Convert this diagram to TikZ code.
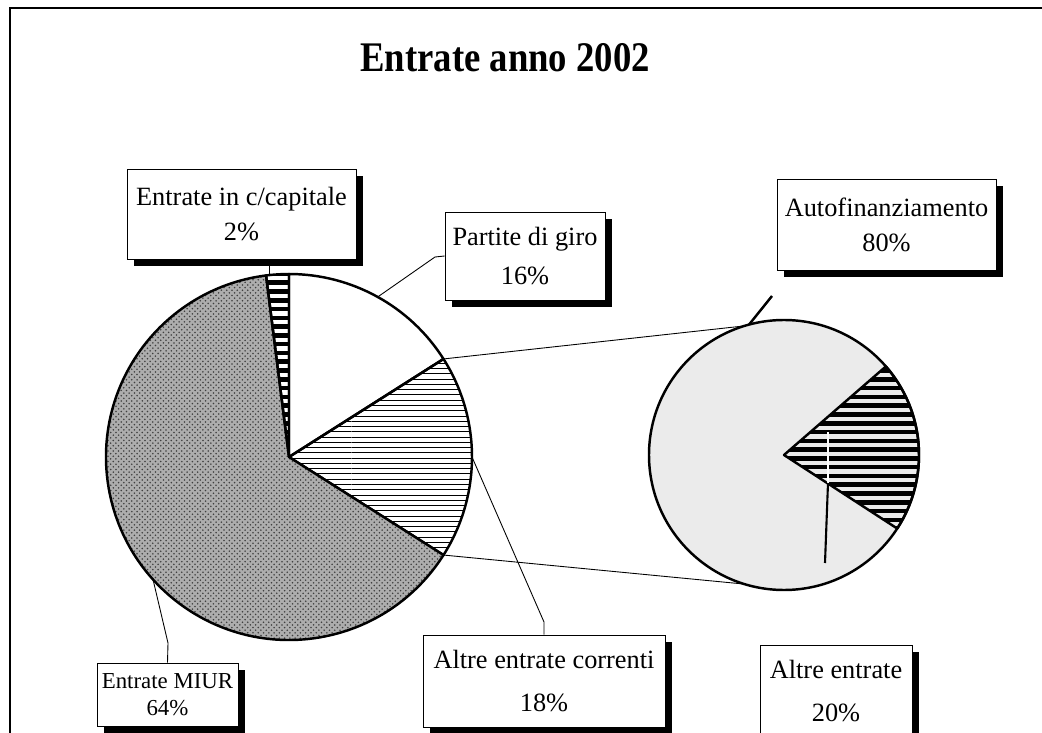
\documentclass[tikz,border=0pt]{standalone}
\usepackage{fontspec}
\setmainfont{Liberation Serif}
\usetikzlibrary{patterns, shadows}
\pgfdeclarepatternformonly{wide stripes}{\pgfpoint{-1pt}{-1pt}}{\pgfpoint{100pt}{4pt}}{\pgfpoint{100pt}{5pt}}{\pgfpathrectangle{\pgfpoint{0pt}{0pt}}{\pgfpoint{100pt}{2.6pt}}\pgfusepath{fill}}
\tikzset{lbl/.style={draw=black, line width=0.5pt, fill=white, align=center, inner sep=0pt,
    font=\fontsize{15}{20}\selectfont,
    drop shadow={shadow xshift=0.14cm, shadow yshift=-0.14cm, fill=black, opacity=1}},
  slice/.style={draw=black, line width=1.4pt, line join=round},
  leader/.style={draw=black, line width=0.5pt}}

\begin{document}
\begin{tikzpicture}[x=0.02cm, y=-0.02cm]
  \clip (0,0) rectangle (1042,733);
  \draw[line width=1.5pt] (10,740) -- (10,8) -- (1050,8);
  \node[font=\fontsize{24}{28}\selectfont\bfseries, anchor=base] (ttl) at (505,72) {\scalebox{0.87}[1]{Entrate anno 2002}};

  % torta principale
  \begin{scope}[shift={(289,457)}, y=0.02cm]
    \filldraw[slice, fill=white] (0,0) -- (90:183) arc (90:32.4:183) -- cycle;
    \filldraw[slice, pattern=horizontal lines] (0,0) -- (32.4:183) arc (32.4:-32.4:183) -- cycle;
    \fill[black!32] (0,0) -- (-32.4:183) arc (-32.4:-262.8:183) -- cycle;
    \filldraw[slice, pattern=crosshatch dots, pattern color=black!75] (0,0) -- (-32.4:183) arc (-32.4:-262.8:183) -- cycle;
    \filldraw[slice, pattern=wide stripes] (0,0) -- (97.2:183) arc (97.2:90:183) -- cycle;
    \coordinate (mtop) at (32.4:183);
    \coordinate (mbot) at (-32.4:183);
    \coordinate (mgiro) at (61:183);
    \coordinate (mcorr) at (0:183);
    \coordinate (mmiur) at (222:183);
    \coordinate (mcap) at (96:183);
  \end{scope}

  % torta secondaria
  \begin{scope}[shift={(784,455)}, y=0.02cm]
    \filldraw[slice, fill=black!8] (0,0) circle (135);
    \filldraw[slice, pattern=wide stripes] (0,0) -- (41:135) arc (41:-33:135) -- cycle;
    \coordinate (stop) at (107:135);
    \coordinate (sbot) at (-107:135);
    \coordinate (sauto) at (105:135);
  \end{scope}

  \draw[leader] (mtop) -- (stop);
  \draw[leader] (mbot) -- (sbot);

  \node[lbl, minimum width=4.58cm, minimum height=1.8cm] (cap) at (241.5,214) {Entrate in c/capitale\\2\%};
  \node[lbl, minimum width=3.2cm, minimum height=1.76cm, font=\fontsize{15}{22}\selectfont] (giro) at (525,256) {Partite di giro\\16\%};
  \node[lbl, minimum width=4.38cm, minimum height=1.82cm] (auto) at (886.5,224.5) {Autofinanziamento\\80\%};
  \node[lbl, minimum width=2.82cm, minimum height=1.26cm, font=\fontsize{13}{15}\selectfont] (miur) at (167.5,694.5) {Entrate MIUR\\64\%};
  \node[lbl, minimum width=4.84cm, minimum height=1.84cm, font=\fontsize{15}{24}\selectfont] (corr) at (544,681) {Altre entrate correnti\\18\%};
  \node[lbl, minimum width=3.04cm, minimum height=1.84cm, font=\fontsize{15}{24}\selectfont] (altre) at (836,691) {Altre entrate\\20\%};

  \coordinate (autotip) at (772,296);
  \coordinate (aewhite) at (828,432);
  \coordinate (aemid) at (828,483);
  \coordinate (aetip) at (825,563);

  \draw[leader] (mgiro) -- (435,257) -- (giro.west);
  \draw[leader] (mcorr) -- (544,622) -- (corr.north);
  \draw[leader] (mmiur) -- (168,643) -- (miur.north);
  \draw[leader] (mcap) -- (cap.south -| mcap);
  \draw[line width=1.4pt] (sauto) -- (autotip);
  \draw[white, line width=1.2pt] (aewhite) -- (aemid);
  \draw[line width=1.2pt] (aemid) -- (aetip);
\end{tikzpicture}
\end{document}
